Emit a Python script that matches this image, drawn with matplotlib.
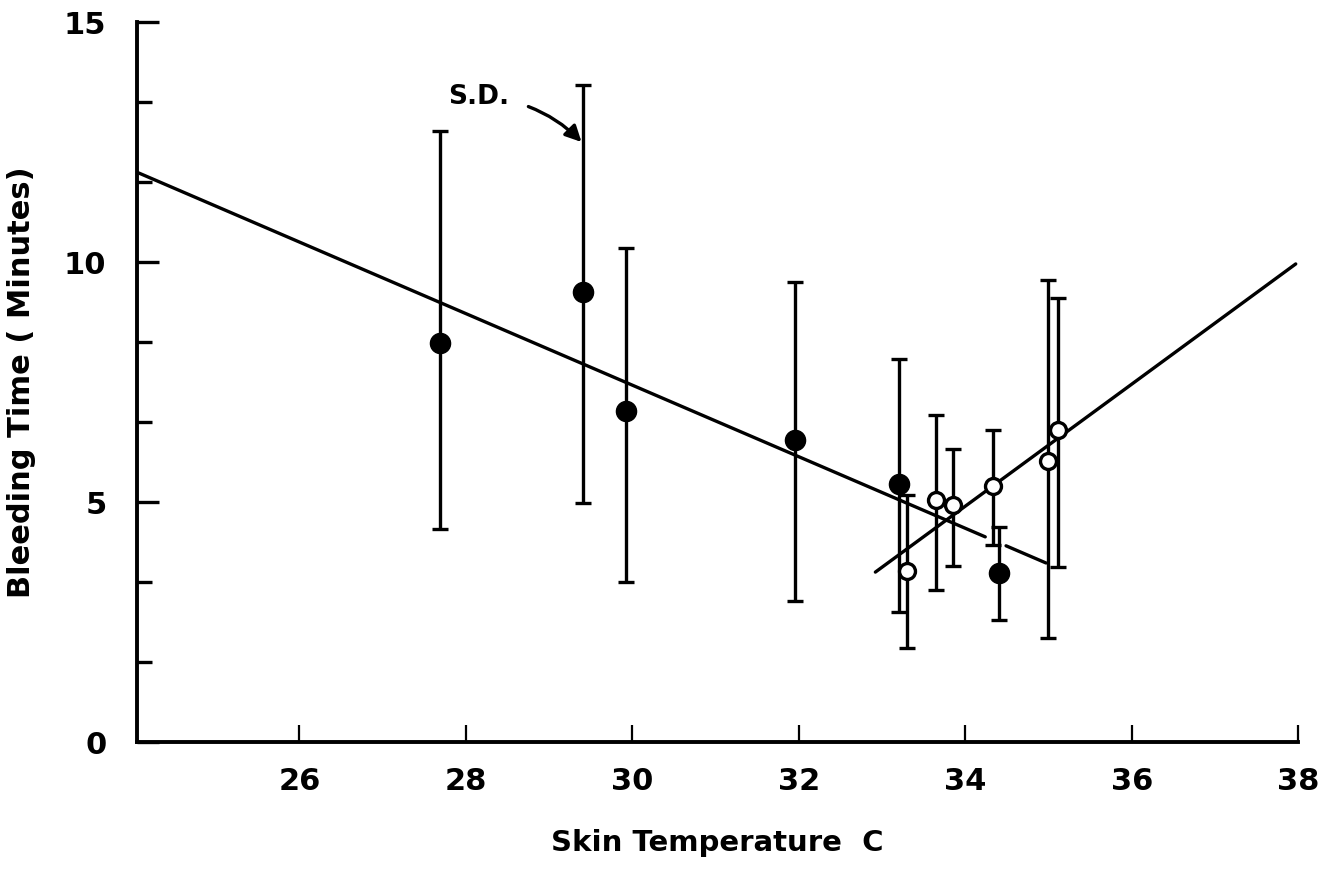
import numpy as np
import matplotlib
matplotlib.use("Agg")
import matplotlib.pyplot as plt

# ------------------------------------------
# Data
# ------------------------------------------

# filled circles
cold_x = [27.69, 29.41, 29.93, 31.95, 33.20, 34.40]
cold_y = [8.31, 9.38, 6.90, 6.29, 5.38, 3.52]
cold_lo = [4.44, 4.98, 3.33, 2.94, 2.71, 2.54]
cold_hi = [12.73, 13.69, 10.29, 9.58, 7.98, 4.48]

# open circles
warm_x = [33.30, 33.65, 33.85, 34.33, 34.99, 35.11]
warm_y = [3.56, 5.04, 4.94, 5.33, 5.85, 6.50]
warm_lo = [1.96, 3.17, 3.67, 4.10, 2.17, 3.65]
warm_hi = [5.15, 6.81, 6.10, 6.50, 9.62, 9.25]

# fitted lines (end points), falling line has a small break near 34.4
fall_x = [24.05, 34.97]
fall_y = [11.87, 3.73]
fall_gap = [34.24, 34.49]
rise_x = [32.92, 37.97]
rise_y = [3.54, 9.96]

font = "DejaVu Sans"

fig = plt.figure(figsize=(13.37, 8.88), dpi=100)
ax = fig.add_axes([0.1025, 0.1644, 0.8685, 0.8108])

lw = 2.4

# regression lines
xa = np.linspace(fall_x[0], fall_gap[0], 2)
xb = np.linspace(fall_gap[1], fall_x[1], 2)
ax.plot(xa, np.interp(xa, fall_x, fall_y), color="black", lw=lw, solid_capstyle="round")
ax.plot(xb, np.interp(xb, fall_x, fall_y), color="black", lw=lw, solid_capstyle="round")
ax.plot(rise_x, rise_y, color="black", lw=lw, solid_capstyle="round")

# error bars
cold_err = [np.array(cold_y) - np.array(cold_lo), np.array(cold_hi) - np.array(cold_y)]
warm_err = [np.array(warm_y) - np.array(warm_lo), np.array(warm_hi) - np.array(warm_y)]

ax.errorbar(cold_x, cold_y, yerr=cold_err, fmt="o", color="black",
            ms=14.5, elinewidth=lw, capsize=6, capthick=lw, zorder=3)
ax.errorbar(warm_x, warm_y, yerr=warm_err, fmt="o", color="black",
            mfc="white", mec="black", mew=2.4, ms=11.5,
            elinewidth=lw, capsize=6, capthick=lw, zorder=3)

# S.D. annotation
ax.annotate("S.D.", xy=(29.39, 12.5), xytext=(28.16, 13.44),
            fontsize=19, fontweight="bold", family=font,
            ha="center", va="center",
            arrowprops=dict(arrowstyle="-|>", color="black", lw=2.4,
                            mutation_scale=24, shrinkA=12, shrinkB=0,
                            connectionstyle="arc3,rad=-0.2"))

# axes
ax.set_xlim(24.05, 38.0)
ax.set_ylim(0, 15)
for side in ["top", "right"]:
    ax.spines[side].set_visible(False)
for side in ["left", "bottom"]:
    ax.spines[side].set_linewidth(2.8)

ax.set_xticks([26, 28, 30, 32, 34, 36, 38])
ax.set_yticks([0, 5, 10, 15])
ax.set_yticks(np.arange(0, 15.01, 5 / 3), minor=True)
ax.tick_params(axis="x", direction="in", length=12, width=1.6, pad=18,
               labelsize=22)
ax.tick_params(axis="y", which="major", direction="in", length=16, width=2.4,
               pad=22, labelsize=22)
ax.tick_params(axis="y", which="minor", direction="in", length=11, width=2.4)
for lab in ax.get_xticklabels() + ax.get_yticklabels():
    lab.set_fontweight("bold")
    lab.set_family(font)

ax.set_xlabel("Skin Temperature  C", fontsize=21, fontweight="bold",
              family=font, labelpad=24)
ax.set_ylabel("Bleeding Time ( Minutes)", fontsize=22, fontweight="bold",
              family=font, labelpad=20)

plt.savefig("out.png", dpi=100)
